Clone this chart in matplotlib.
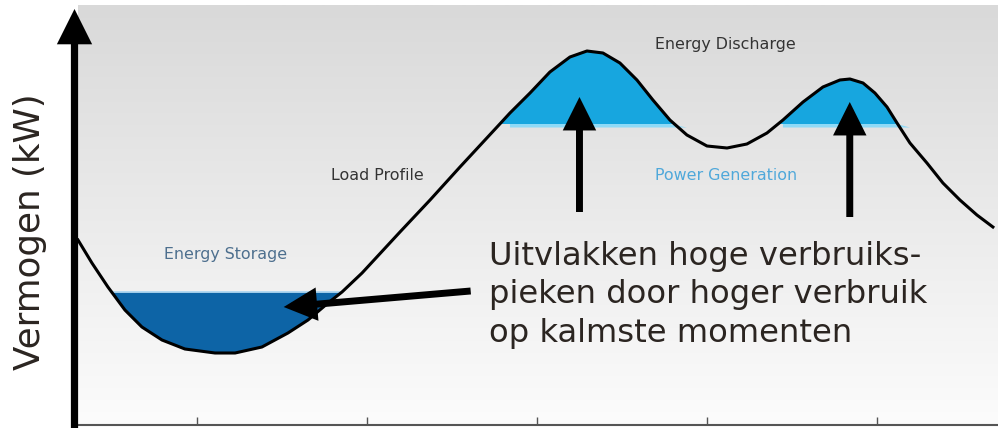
import numpy as np
import matplotlib
matplotlib.use('Agg')
from matplotlib import pyplot as plt
from matplotlib.colors import LinearSegmentedColormap

# load profile (time in tick units, power in arbitrary kW units)
time = [0.300, 0.382, 0.476, 0.576, 0.676, 0.794, 0.929, 1.106, 1.224, 1.382,
        1.535, 1.653, 1.771, 1.853, 1.971, 2.194, 2.371, 2.547, 2.765, 2.841,
        2.959, 3.076, 3.194, 3.294, 3.388, 3.488, 3.588, 3.682, 3.782, 3.882,
        4.000, 4.118, 4.235, 4.353, 4.447, 4.565, 4.682, 4.782, 4.841, 4.918,
        4.988, 5.059, 5.118, 5.194, 5.294, 5.388, 5.488, 5.588, 5.682]
load = [18.5, 16.2, 13.8, 11.5, 9.8, 8.5, 7.6, 7.2, 7.2, 7.8,
        9.2, 10.5, 12.2, 13.3, 15.2, 19.3, 22.5, 25.8, 29.8, 31.2,
        33.2, 35.3, 36.8, 37.4, 37.2, 36.2, 34.5, 32.5, 30.5, 29.0,
        27.9, 27.7, 28.1, 29.2, 30.5, 32.3, 33.8, 34.5, 34.6, 34.2,
        33.2, 31.8, 30.2, 28.2, 26.2, 24.2, 22.5, 21.0, 19.8]
storage_level = 13.3
discharge_level = 30.1
ticks = [1, 2, 3, 4, 5]

t = np.array(time)
p = np.array(load)

fig = plt.figure(figsize=(9.98, 4.30), dpi=100)
ax = fig.add_axes([78 / 998, 5 / 430, 920 / 998, 420 / 430])
ax.set_xlim(0.30, 5.712)
ax.set_ylim(0, 42.0)

# grey-to-white background
grad = np.linspace(0, 1, 256).reshape(-1, 1)
ax.imshow(grad, extent=[0.30, 5.712, 0, 42.0], aspect='auto', origin='lower',
          cmap=LinearSegmentedColormap.from_list('bg', ['#fcfcfc', '#d9d9d9']), zorder=0)

# storage (valley) and discharge (peaks)
valley = (p < storage_level) & (t < 2.5)
ax.fill_between(t, p, storage_level, where=valley, interpolate=True,
                color='#0d64a6', lw=0, zorder=1)
peaks = p > discharge_level
ax.fill_between(t, p, discharge_level, where=peaks, interpolate=True,
                color='#17a6df', lw=0, zorder=1)

# thin light edges on the flat sides of the fills
i_min = int(np.argmin(p[t < 2.5]))
x_left = np.interp(storage_level, p[:i_min + 1][::-1], t[:i_min + 1][::-1])
x_right = np.interp(storage_level, p[i_min:15], t[i_min:15])
ax.plot([x_left, x_right], [storage_level, storage_level], color='#a8d4f0', lw=1.2, zorder=1.5)
ax.fill_between(t, discharge_level - 0.35, discharge_level, where=peaks, interpolate=True,
                color='#8fdaf7', lw=0, zorder=1.5)

ax.plot(t, p, color='black', lw=2.2, zorder=2, solid_joinstyle='round')

# small labels
ax.text(1.17, 17.1, 'Energy Storage', color='#4d6f8e', fontsize=11.4, ha='center', va='center')
ax.text(2.06, 25.0, 'Load Profile', color='#333333', fontsize=11.4, ha='center', va='center')
ax.text(4.11, 38.0, 'Energy Discharge', color='#333333', fontsize=11.4, ha='center', va='center')
ax.text(4.11, 25.0, 'Power Generation', color='#4fa8da', fontsize=11.4, ha='center', va='center')

ax.text(2.72, 13.0, 'Uitvlakken hoge verbruiks-\npieken door hoger verbruik\nop kalmste momenten',
        color='#2b2521', fontsize=23.2, ha='left', va='center', linespacing=1.3)

arrow = dict(arrowstyle='-|>,head_length=16,head_width=8', mutation_scale=1,
             lw=5, color='black', shrinkA=0, shrinkB=0, capstyle='butt', joinstyle='miter')
ax.annotate('', xy=(1.51, 11.8), xytext=(2.61, 13.4), arrowprops=arrow)
ax.annotate('', xy=(3.25, 32.8), xytext=(3.25, 21.3), arrowprops=arrow)
ax.annotate('', xy=(4.84, 32.3), xytext=(4.84, 20.8), arrowprops=arrow)

# axes
for s in ['top', 'right', 'left']:
    ax.spines[s].set_visible(False)
ax.spines['bottom'].set_color('#555555')
ax.spines['bottom'].set_linewidth(1.5)
ax.set_xticks(ticks)
ax.set_xticklabels([])
ax.set_yticks([])
ax.tick_params(axis='x', direction='in', length=6, width=1, color='#555555')

# vertical power arrow
ax.annotate('', xy=(74.5, 430 - 9), xytext=(74.5, 430 - 428), xycoords='figure pixels',
            textcoords='figure pixels', annotation_clip=False,
            arrowprops=dict(arrowstyle='-|>,head_length=17,head_width=8.5', mutation_scale=1,
                            lw=5.2, color='black', shrinkA=0, shrinkB=0,
                            capstyle='butt', joinstyle='miter'))

fig.text(30 / 998, 1 - 232 / 430, 'Vermogen (kW)', rotation=90, fontsize=25.7,
         color='#2b2521', ha='center', va='center')

fig.savefig('out.png', dpi=100)
